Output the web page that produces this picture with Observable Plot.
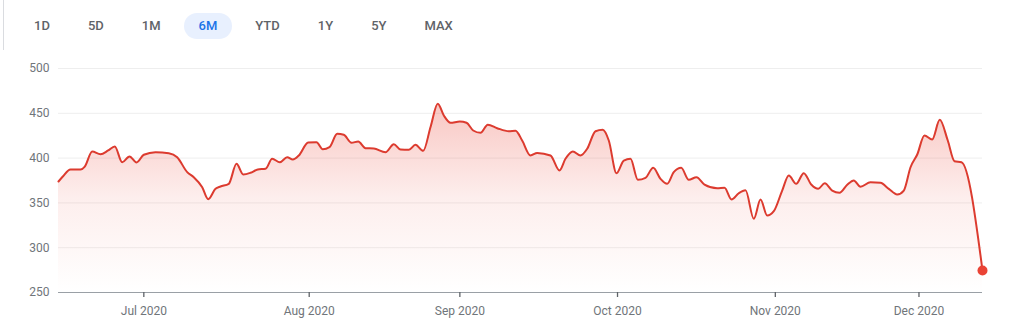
<!DOCTYPE html>
<html>
<head>
<meta charset="utf-8">
<script src="https://cdn.jsdelivr.net/npm/d3@7"></script>
<script src="https://cdn.jsdelivr.net/npm/@observablehq/plot@0.6"></script>
<style>
  html, body { margin: 0; padding: 0; background: #fff; }
  #wrap { position: relative; width: 1021px; height: 327px; overflow: hidden;
          font-family: Roboto, Arial, sans-serif; }
  #edge { position: absolute; left: 3px; top: 0; width: 1px; height: 327px; background: #dadce0; }
  #btns { position: absolute; left: 19px; top: 13px; display: flex; gap: 8px; }
  .btn { height: 26px; line-height: 26px; padding: 0 15px; border-radius: 13px;
         font-size: 13px; font-weight: 500; color: #5f6368; }
  .btn.on { background: #e8f0fe; color: #1a73e8; }
  #chart { position: absolute; left: 0; top: 50px; }
</style>
</head>
<body>
<div id="wrap">
  <div id="edge"></div>
  <div id="btns"></div>
  <div id="chart"></div>
</div>
<script>
// Range selector buttons
const ranges = ["1D", "5D", "1M", "6M", "YTD", "1Y", "5Y", "MAX"];
const activeRange = "6M";

// Trading-session position (0 = first session shown) and price
const sessions = [0, 0.6, 1.66, 3.05, 3.64, 4.67, 5.82, 6.88, 7.8, 8.82, 9.84, 10.81, 11.82, 13.44, 15.28, 16.44,
  17.83, 18.74, 19.91, 20.74, 21.75, 22.44, 23.59, 24.66, 25.59, 26.6, 27.61, 28.68, 29.6, 30.66, 31.68,
  32.46, 33.29, 34.59, 35.74, 36.61, 37.54, 38.61, 39.52, 40.59, 41.52, 42.53, 43.68, 45.3, 46.45, 47.38,
  48.53, 49.45, 50.52, 51.53, 52.54, 53.38, 54.3, 55.59, 56.52, 57.45, 58.46, 59.47, 60.77, 62.38, 63.31,
  64.23, 65.38, 66.31, 68.15, 69.4, 70.23, 71.25, 72.31, 73.24, 74.39, 75.4, 76.23, 77.3, 78.31, 79.24,
  80.25, 81.32, 82.38, 83.39, 84.32, 85.23, 86.26, 87.31, 88.38, 89.49, 91.25, 92.26, 93.23, 94.24, 95.17,
  96.32, 97.25, 98.17, 99.09, 100.25, 101.17, 102.19, 103.24, 104.31, 105.24, 106.15, 107.18, 108.19, 109.26, 110.17,
  111.1, 112.48, 113.87, 115.02, 116.18, 117.1, 118.03, 118.96, 119.96, 121.03, 122.08, 123.19, 124.12, 125.09, 128];
const prices = [373.9, 379.5, 387.3, 387.3, 390.6, 407.4, 404.4, 408.5, 413, 395.4, 401.8, 395.1, 403.7, 406.6, 405.5, 401,
  384.3, 378.7, 367.5, 354.1, 365.7, 368.3, 371.3, 393.6, 381.7, 383.6, 387.3, 388.1, 399.2, 395.4, 401,
  398.4, 402.9, 417.4, 417.7, 409.9, 412.2, 427.1, 426, 417.1, 418.5, 411.1, 410.7, 406.6, 415.5, 409.5,
  409.3, 414.8, 408.1, 434.5, 460.6, 447.5, 439.4, 440.8, 439.4, 430.8, 428.2, 437.2, 433.4, 430, 430.5,
  419.6, 402.9, 405.8, 402.9, 386.2, 399.2, 407.4, 402.9, 410.4, 430, 431.6, 419.6, 383.2, 397.3, 399.2,
  375.8, 378, 389.2, 376.9, 371.3, 384.3, 389.2, 375.8, 378.7, 370.5, 366.4, 366.8, 353.8, 360.8, 364,
  332.2, 353.8, 335.9, 340.7, 363.8, 380.6, 371.3, 383.2, 370.2, 365.7, 372, 363.8, 361.3, 370.2, 375,
  368, 373.1, 372.4, 365.7, 359.4, 363.8, 389.8, 404, 425.2, 420.8, 442.7, 419.6, 396.5, 395.4, 274.5];

// X axis ticks (session positions of the first session of each month) and labels
const xTickPositions = [11.82, 34.73, 55.6, 77.44, 99.3, 119.2];
const xTickLabels = ["Jul 2020", "Aug 2020", "Sep 2020", "Oct 2020", "Nov 2020", "Dec 2020"];
// Y axis ticks
const yTicks = [250, 300, 350, 400, 450, 500];

const data = sessions.map((t, i) => ({t, v: prices[i]}));
const last = data[data.length - 1];
const labelAt = new Map(xTickPositions.map((p, i) => [p, xTickLabels[i]]));

// buttons
const btns = document.getElementById("btns");
for (const r of ranges) {
  const b = document.createElement("div");
  b.className = "btn" + (r === activeRange ? " on" : "");
  b.textContent = r;
  btns.appendChild(b);
}

const chart = Plot.plot({
  width: 1021,
  height: 277,
  marginTop: 18,
  marginBottom: 35,
  marginLeft: 58,
  marginRight: 39,
  style: {fontFamily: "Roboto, Arial, sans-serif", fontSize: "12px", color: "#70757a", background: "#fff"},
  x: {domain: [0, 128], label: null},
  y: {domain: [250, 500], label: null},
  marks: [
    Plot.gridY(yTicks.slice(1), {stroke: "#eeeeee", strokeOpacity: 1}),
    Plot.areaY(data, {x: "t", y1: 250, y2: "v", curve: "monotone-x", fill: "url(#fadeRed)"}),
    Plot.lineY(data, {x: "t", y: "v", curve: "monotone-x", stroke: "#dc3b2f", strokeWidth: 2}),
    Plot.ruleY([250], {stroke: "#9aa0a6", strokeWidth: 1}),
    Plot.axisX(xTickPositions, {tickSize: 5, tickPadding: 9, stroke: "#5f6368", strokeWidth: 1.3,
      tickFormat: d => labelAt.get(d), fill: "#70757a", label: null}),
    Plot.axisY(yTicks, {tickSize: 0, tickPadding: 9, fill: "#70757a", label: null}),
    Plot.dot([last], {x: "t", y: "v", r: 5, fill: "#ea4335", stroke: "none"})
  ]
});

d3.select(chart).insert("defs", ":first-child").html(
  `<linearGradient id="fadeRed" x1="0" y1="0" x2="0" y2="1">
     <stop offset="0" stop-color="#ea4335" stop-opacity="0.30"/>
     <stop offset="0.5" stop-color="#ea4335" stop-opacity="0.09"/>
     <stop offset="1" stop-color="#ea4335" stop-opacity="0"/>
   </linearGradient>`);

document.getElementById("chart").appendChild(chart);
</script>
</body>
</html>
